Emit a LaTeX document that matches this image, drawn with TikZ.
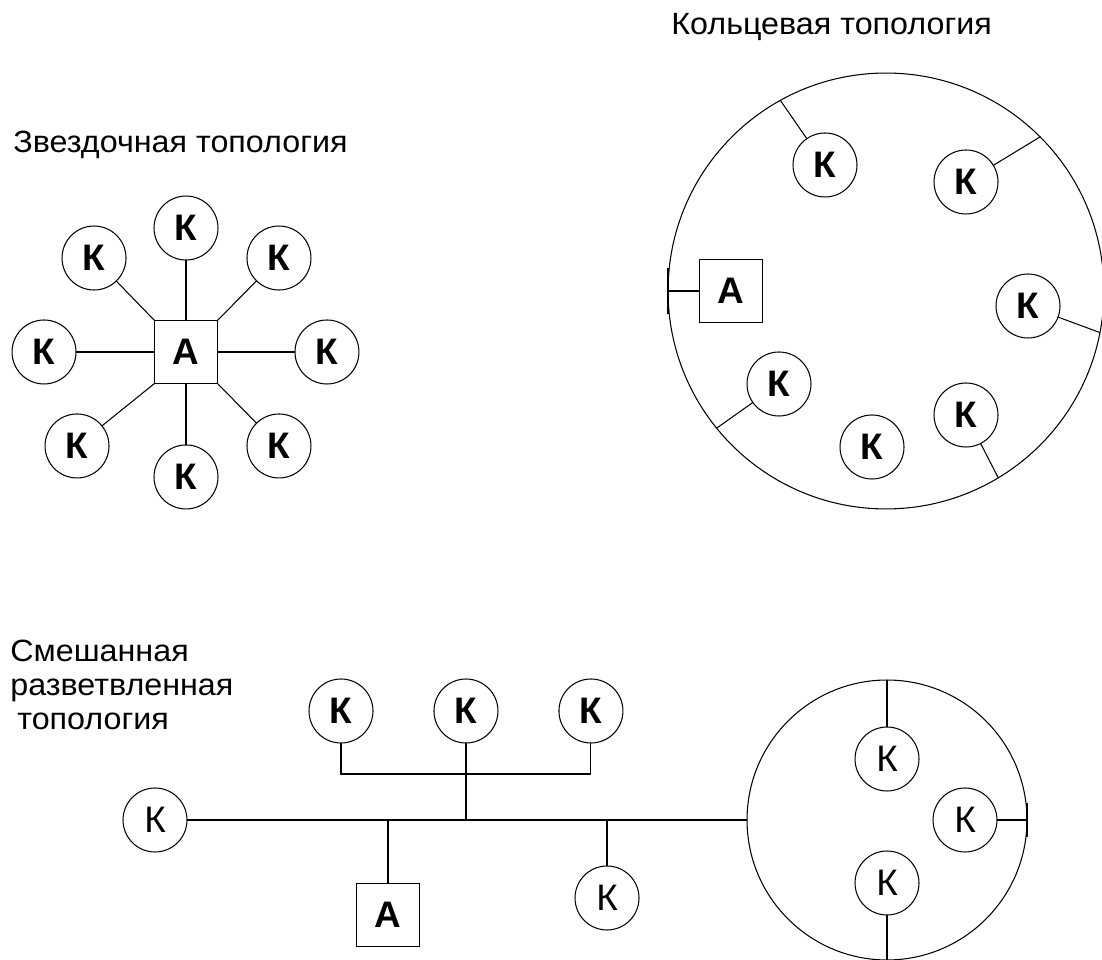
\documentclass[tikz,border=0pt]{standalone}
\usepackage{fontspec}
\setmainfont{Liberation Sans}
\newfontfamily\lblfont[FakeStretch=1.05]{Liberation Sans}
\usetikzlibrary{positioning}

\begin{document}
\begin{tikzpicture}[x=0.02cm,y=0.02cm,on grid,
    comp/.style={circle,draw,line width=0.6pt,minimum size=1.28cm,inner sep=0pt,outer sep=0pt,font=\fontsize{21}{24}\selectfont\bfseries},
    compthin/.style={comp,font=\fontsize{21}{24}\selectfont},
    admin/.style={rectangle,draw,line width=0.6pt,minimum size=1.26cm,inner sep=0pt,outer sep=0pt,font=\fontsize{21}{24}\selectfont\bfseries},
    ringnet/.style={circle,draw,line width=0.6pt,inner sep=0pt,outer sep=0pt},
    title/.style={anchor=base west,inner sep=0pt,font=\lblfont\fontsize{17.5}{20}\selectfont},
    wire/.style={line width=0.6pt},
    bus/.style={line width=1.2pt}]
  \useasboundingbox (0,0) rectangle (1102,960);

  % star
  \node[title] (lstar) at (13,807) {Звездочная топология};
  \node[admin] (sa) at (186,608) {А};
  \node[comp] (s1) [above=2.48cm of sa] {К};
  \node[comp] (s2) [above right=1.88cm and 1.86cm of sa] {К};
  \node[comp] (s3) [right=2.82cm of sa] {К};
  \node[comp] (s4) [below right=1.88cm and 1.86cm of sa] {К};
  \node[comp] (s5) [below=2.5cm of sa] {К};
  \node[comp] (s6) [below left=1.88cm and 2.18cm of sa] {К};
  \node[comp] (s7) [left=2.84cm of sa] {К};
  \node[comp] (s8) [above left=1.88cm and 1.84cm of sa] {К};
  \path[wire]
    (sa) edge (s1)
         edge (s5)
    (sa.north east) edge (s2)
    (sa.south east) edge (s4)
    (sa.south west) edge (s6)
    (sa.north west) edge (s8);
  \path[bus]
    (sa) edge (s3)
         edge (s7);

  % ring
  \node[title] (lring) at (671,925) {Кольцевая топология};
  \node[ringnet,minimum size=8.72cm] (rr) at (886,669) {};
  \node[admin] (ra) at (731,669) {А};
  \node[comp] (r1) at (825,795) {К};
  \node[comp] (r2) at (966,778) {К};
  \node[comp] (r3) at (1028,654) {К};
  \node[comp] (r4) at (779,576) {К};
  \node[comp] (r5) at (872,513) {К};
  \node[comp] (r6) at (966,545) {К};
  \draw[wire] (rr.west) -- (ra);
  \draw[bus] ([yshift=0.46cm]rr.west) -- ([yshift=-0.46cm]rr.west);
  \path[wire]
    (rr.119) edge (r1)
    (rr.45) edge (r2)
    (rr.349) edge (r3)
    (rr.219) edge (r4)
    (rr.301) edge (r6);

  % mixed
  \node[title] (lmix1) at (10,298) {Смешанная};
  \node[title] (lmix2) at (10,264) {разветвленная};
  \node[title] (lmix3) at (17,230) {топология};
  \node[comp] (m1) at (341,249) {К};
  \node[comp] (m2) [right=2.5cm of m1] {К};
  \node[comp] (m3) [right=2.5cm of m2] {К};
  \node[compthin] (m0) at (155,140) {К};
  \node[admin] (ma) at (388,45) {А};
  \node[compthin] (m4) at (607,62) {К};
  \node[ringnet,minimum size=5.6cm] (mr) at (887,140) {};
  \node[compthin] (m5) at (887,201) {К};
  \node[compthin] (m6) at (965,140) {К};
  \node[compthin] (m7) at (887,77) {К};
  \coordinate (tee) at (466,186);
  \draw[wire] (m1) |- (tee) -| (m3);
  \draw[wire] (m2) -- (m2 |- mr.west);
  \draw[wire] (m0) -- (mr.west);
  \draw[wire] (ma) -- (ma |- mr.west);
  \draw[wire] (m4) -- (m4 |- mr.west);
  \draw[bus] (mr.north) -- (m5);
  \draw[bus] (m7) -- (mr.south);
  \draw[wire] (m6) -- (mr.east);
  \draw[bus] ([yshift=0.35cm]mr.east) -- ([yshift=-0.35cm]mr.east);
\end{tikzpicture}
\end{document}
